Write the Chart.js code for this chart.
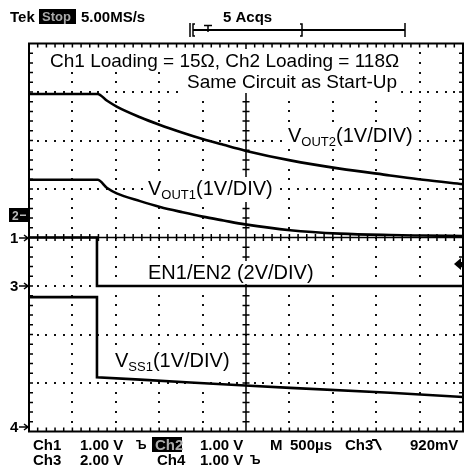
<!DOCTYPE html>
<html>
<head>
<meta charset="utf-8">
<style>
html, body { margin: 0; padding: 0; background: #fff; }
#wrap { width: 464px; height: 466px; position: relative; overflow: hidden; }
</style>
</head>
<body>
<div id="wrap"><canvas id="scope" width="464" height="466"></canvas></div>
<script src="https://cdn.jsdelivr.net/npm/chart.js@4.4.1/dist/chart.umd.min.js"></script>
<script>
"use strict";
// time in ms from the left edge of the screen (500us/div, 10 div)
var timeOut = [0, 0.79, 0.90, 1.01, 1.28, 1.51, 1.77, 2.00, 2.24, 2.49, 3.01, 3.58, 4.16, 4.54, 5.0];
var vout2 = [2.5, 2.5, 2.36, 2.24, 2.02, 1.86, 1.70, 1.57, 1.45, 1.33, 1.13, 0.96, 0.82, 0.73, 0.64];
var vout1 = [1.19, 1.19, 1.02, 0.91, 0.75, 0.63, 0.52, 0.43, 0.35, 0.27, 0.15, 0.08, 0.05, 0.04, 0.03];
var timeEn = [0, 0.783, 0.783, 5.0];
var en = [2, 2, 0, 0];
var timeSs = [0, 0.783, 0.783, 1.28, 1.86, 2.49, 3.01, 4.16, 5.0];
var vss1 = [2.67, 2.67, 1.02, 0.97, 0.91, 0.85, 0.80, 0.70, 0.61];

var titleLines = ["Ch1 Loading = 15\u03a9, Ch2 Loading = 118\u03a9", "Same Circuit as Start-Up"];
var statusText = ["Tek", "Stop", "5.00MS/s", "5 Acqs"];
var readout1 = ["Ch1", "1.00 V", "Ch2", "1.00 V", "M", "500\u00b5s", "Ch3", "920mV"];
var readout2 = ["Ch3", "2.00 V", "Ch4", "1.00 V"];

// volts/div and ground position (div) of each channel
var chan = {
    1: { vdiv: 1, pos: 0 },
    2: { vdiv: 1, pos: 0.46 },
    3: { vdiv: 2, pos: -1 },
    4: { vdiv: 1, pos: -3.9 }
};

function trace(t, v, c) {
    return t.map(function(x, i) { return { x: x, y: v[i] / c.vdiv + c.pos }; });
}

var SANS = "'Liberation Sans', Arial, sans-serif";

function subLabel(ctx, x, y, main, sub, rest, draw) {
    ctx.font = "20px " + SANS;
    var w1 = ctx.measureText(main).width;
    ctx.font = "13px " + SANS;
    var w2 = ctx.measureText(sub).width;
    ctx.font = "20px " + SANS;
    var w3 = ctx.measureText(rest).width;
    if (!draw) return w1 + w2 + w3;
    ctx.fillText(main, x, y);
    ctx.font = "13px " + SANS;
    ctx.fillText(sub, x + w1, y + 4);
    ctx.font = "20px " + SANS;
    ctx.fillText(rest, x + w1 + w2, y);
}

var graticule = {
    id: "graticule",
    beforeDatasetsDraw: function(chart) {
        var ctx = chart.ctx, xs = chart.scales.x, ys = chart.scales.y, a = chart.chartArea;
        var i, k, px, py;
        ctx.save();
        ctx.fillStyle = "#111";
        // dotted division lines
        for (i = 1; i < 10; i++) {
            if (i === 5) continue;
            px = xs.getPixelForValue(i * 0.5);
            for (k = 1; k < 40; k++) {
                py = ys.getPixelForValue(-4 + k * 0.2);
                ctx.fillRect(Math.round(px) - 1, Math.round(py) - 1, 2, 2);
            }
        }
        for (i = -3; i <= 3; i++) {
            if (i === 0) continue;
            py = ys.getPixelForValue(i);
            for (k = 1; k < 50; k++) {
                px = xs.getPixelForValue(k * 0.1);
                ctx.fillRect(Math.round(px) - 1, Math.round(py) - 1, 2, 2);
            }
        }
        // centre lines with minor ticks
        ctx.strokeStyle = "#000";
        ctx.lineWidth = 1.5;
        var cx = xs.getPixelForValue(2.5), cy = ys.getPixelForValue(0);
        ctx.beginPath();
        ctx.moveTo(a.left, cy); ctx.lineTo(a.right, cy);
        ctx.moveTo(cx, a.top); ctx.lineTo(cx, a.bottom);
        for (k = 1; k < 50; k++) {
            px = xs.getPixelForValue(k * 0.1);
            ctx.moveTo(px, cy - 3.5); ctx.lineTo(px, cy + 3.5);
            ctx.moveTo(px, a.top); ctx.lineTo(px, a.top + 4);
            ctx.moveTo(px, a.bottom); ctx.lineTo(px, a.bottom - 4);
        }
        for (k = 1; k < 40; k++) {
            py = ys.getPixelForValue(-4 + k * 0.2);
            ctx.moveTo(cx - 3.5, py); ctx.lineTo(cx + 3.5, py);
            ctx.moveTo(a.left, py); ctx.lineTo(a.left + 4, py);
            ctx.moveTo(a.right, py); ctx.lineTo(a.right - 4, py);
        }
        ctx.stroke();
        ctx.lineWidth = 2;
        ctx.strokeRect(a.left, a.top, a.right - a.left, a.bottom - a.top);

        // white backing under the annotations
        ctx.fillStyle = "#fff";
        ctx.font = "19px " + SANS;
        var w = ctx.measureText(titleLines[0]).width;
        ctx.fillRect(46, 49, w + 8, 22);
        w = ctx.measureText(titleLines[1]).width;
        ctx.fillRect(183, 71, w + 8, 22);
        ctx.fillRect(284, 124, subLabel(ctx, 0, 0, "V", "OUT2", "(1V/DIV)", false) + 8, 25);
        ctx.fillRect(144, 177, subLabel(ctx, 0, 0, "V", "OUT1", "(1V/DIV)", false) + 8, 25);
        ctx.fillRect(111, 349, subLabel(ctx, 0, 0, "V", "SS1", "(1V/DIV)", false) + 8, 25);
        ctx.font = "20px " + SANS;
        ctx.fillRect(144, 261, ctx.measureText("EN1/EN2 (2V/DIV)").width + 8, 23);
        ctx.restore();
    },
    afterDatasetsDraw: function(chart) {
        var ctx = chart.ctx, ys = chart.scales.y;
        ctx.save();
        ctx.fillStyle = "#000";
        ctx.font = "19px " + SANS;
        ctx.fillText(titleLines[0], 50, 67);
        ctx.fillText(titleLines[1], 187, 88);
        subLabel(ctx, 288, 142, "V", "OUT2", "(1V/DIV)", true);
        subLabel(ctx, 148, 195, "V", "OUT1", "(1V/DIV)", true);
        subLabel(ctx, 115, 367, "V", "SS1", "(1V/DIV)", true);
        ctx.font = "20px " + SANS;
        ctx.fillText("EN1/EN2 (2V/DIV)", 148, 279);

        // channel ground markers
        ctx.font = "bold 15px " + SANS;
        ctx.lineWidth = 1.5;
        [1, 3, 4].forEach(function(n) {
            var py = Math.round(ys.getPixelForValue(chan[n].pos));
            ctx.fillStyle = "#000";
            ctx.fillText(String(n), 10, py + 5);
            ctx.beginPath();
            ctx.moveTo(19, py); ctx.lineTo(28, py);
            ctx.moveTo(24, py - 3); ctx.lineTo(28, py); ctx.lineTo(24, py + 3);
            ctx.stroke();
        });
        var p2 = Math.round(ys.getPixelForValue(chan[2].pos));
        ctx.fillRect(9, p2 - 7, 19, 14);
        ctx.fillStyle = "#bbb";
        ctx.font = "bold 12px " + SANS;
        ctx.fillText("2", 12, p2 + 5);
        ctx.fillRect(20, p2 - 0.5, 6, 1.5);

        // trigger level arrow
        ctx.fillStyle = "#000";
        ctx.beginPath();
        ctx.moveTo(454, 264); ctx.lineTo(461, 258); ctx.lineTo(461, 270); ctx.closePath();
        ctx.fill();
        ctx.fillRect(460, 262, 4, 4);

        // status line
        ctx.font = "bold 15px " + SANS;
        ctx.fillText(statusText[0], 10, 22);
        ctx.fillRect(39, 9, 37, 15);
        ctx.fillText(statusText[2], 81, 22);
        ctx.fillText(statusText[3], 223, 22);
        ctx.fillStyle = "#aaa";
        ctx.font = "bold 13px " + SANS;
        ctx.fillText(statusText[1], 42, 21);

        // record view bar
        ctx.strokeStyle = "#000";
        ctx.lineWidth = 1.5;
        ctx.beginPath();
        ctx.moveTo(190, 23); ctx.lineTo(190, 37);
        ctx.moveTo(195, 24); ctx.lineTo(193, 24); ctx.lineTo(193, 36); ctx.lineTo(195, 36);
        ctx.moveTo(300, 24); ctx.lineTo(302, 24); ctx.lineTo(302, 36); ctx.lineTo(300, 36);
        ctx.moveTo(405, 23); ctx.lineTo(405, 37);
        ctx.moveTo(204, 25.5); ctx.lineTo(212, 25.5);
        ctx.moveTo(208, 25); ctx.lineTo(208, 32);
        ctx.stroke();
        ctx.lineWidth = 2;
        ctx.beginPath();
        ctx.moveTo(193, 30); ctx.lineTo(405, 30);
        ctx.stroke();

        // readout
        ctx.fillStyle = "#000";
        ctx.font = "bold 15px " + SANS;
        var r1x = [33, 80, 155, 200, 270, 290, 345, 410];
        readout1.forEach(function(s, i) {
            if (i === 2) {
                ctx.fillRect(152, 437, 30, 15);
                ctx.fillStyle = "#aaa";
                ctx.fillText(s, r1x[i], 450);
                ctx.fillStyle = "#000";
            } else {
                ctx.fillText(s, r1x[i], 450);
            }
        });
        var r2x = [33, 80, 157, 200];
        readout2.forEach(function(s, i) { ctx.fillText(s, r2x[i], 465); });
        ctx.font = "bold 12px " + SANS;
        ctx.fillText("\u042a", 136, 449);
        ctx.fillText("\u042a", 250, 464);
        ctx.lineWidth = 2;
        ctx.beginPath();
        ctx.moveTo(372, 440); ctx.lineTo(376, 440); ctx.lineTo(381, 450);
        ctx.stroke();
        ctx.restore();
    }
};

var ScopeShot = function() {
    return {
        init: function() {
            var el = document.getElementById("scope");
            var line = { borderColor: "#000", borderWidth: 2.6, pointRadius: 0, fill: false };
            new Chart(el, {
                type: "line",
                data: {
                    datasets: [
                        Object.assign({ label: "VOUT2", data: trace(timeOut, vout2, chan[2]), cubicInterpolationMode: "monotone" }, line),
                        Object.assign({ label: "VOUT1", data: trace(timeOut, vout1, chan[1]), cubicInterpolationMode: "monotone" }, line),
                        Object.assign({ label: "EN1/EN2", data: trace(timeEn, en, chan[3]), tension: 0 }, line),
                        Object.assign({ label: "VSS1", data: trace(timeSs, vss1, chan[4]), tension: 0 }, line)
                    ]
                },
                options: {
                    responsive: false,
                    animation: false,
                    devicePixelRatio: 1,
                    layout: { padding: { left: 29, right: 1, top: 43.5, bottom: 34.5 } },
                    plugins: { legend: { display: false }, tooltip: { enabled: false } },
                    scales: {
                        x: { type: "linear", min: 0, max: 5, display: false },
                        y: { type: "linear", min: -4, max: 4, display: false }
                    }
                },
                plugins: [graticule]
            });
        }
    };
}();
ScopeShot.init();
</script>
</body>
</html>
